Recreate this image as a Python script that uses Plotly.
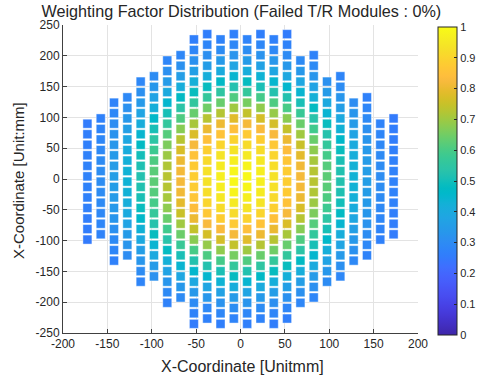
import numpy as np
import plotly.graph_objects as go

# ---- data ----
# column x positions of the array elements (mm)
COL_X = [-172.5, -157.5, -142.5, -127.5, -112.5, -97.5, -82.5, -67.5,
         -52.5, -37.5, -22.5, -7.5, 7.5, 22.5, 37.5, 52.5,
         67.5, 82.5, 97.5, 112.5, 127.5, 142.5, 157.5, 172.5]
# number of elements in each column
COL_COUNT = [12, 12, 16, 16, 20, 20, 24, 24,
             28, 28, 28, 28, 28, 28, 28, 28,
             24, 24, 20, 20, 16, 16, 12, 12]
# vertical centre of each column (mm) – staggered lattice
COL_CENTER = [-4.3, 4.3] * 12
ROW_PITCH = 17.1  # mm between elements in a column

# weighting factor read along the normalised (elliptical) radius
PROFILE_RHO = [0.0, 0.1, 0.2, 0.3, 0.4, 0.5, 0.6, 0.7, 0.8, 0.9, 1.0, 1.1]
PROFILE_W = [1.0, 0.98, 0.94, 0.88, 0.80, 0.68, 0.55, 0.44, 0.35, 0.29, 0.26, 0.24]
RADIUS_X, RADIUS_Y = 180.0, 240.0

X_TICKS = [-200, -150, -100, -50, 0, 50, 100, 150, 200]
Y_TICKS = [-250, -200, -150, -100, -50, 0, 50, 100, 150, 200, 250]
CB_TICKS = [0, 0.1, 0.2, 0.3, 0.4, 0.5, 0.6, 0.7, 0.8, 0.9, 1]

# ---- build element list ----
xs, ys = [], []
for cx, n, cy in zip(COL_X, COL_COUNT, COL_CENTER):
    for k in range(n):
        xs.append(cx)
        ys.append(cy + ROW_PITCH * (k - (n - 1) / 2))
xs = np.array(xs)
ys = np.array(ys)
rho = np.sqrt((xs / RADIUS_X) ** 2 + (ys / RADIUS_Y) ** 2)
weights = np.interp(rho, PROFILE_RHO, PROFILE_W)

_parula = [
    [0.2422, 0.1504, 0.6603], [0.2504, 0.1650, 0.7076], [0.2578, 0.1818, 0.7511],
    [0.2647, 0.1978, 0.7952], [0.2706, 0.2147, 0.8364], [0.2751, 0.2342, 0.8710],
    [0.2783, 0.2559, 0.8991], [0.2803, 0.2782, 0.9221], [0.2813, 0.3006, 0.9414],
    [0.2810, 0.3228, 0.9579], [0.2795, 0.3447, 0.9717], [0.2760, 0.3667, 0.9829],
    [0.2699, 0.3892, 0.9906], [0.2602, 0.4123, 0.9952], [0.2440, 0.4358, 0.9988],
    [0.2206, 0.4603, 0.9973], [0.1963, 0.4847, 0.9892], [0.1834, 0.5074, 0.9798],
    [0.1786, 0.5289, 0.9682], [0.1764, 0.5499, 0.9520], [0.1687, 0.5703, 0.9359],
    [0.1540, 0.5902, 0.9218], [0.1460, 0.6091, 0.9079], [0.1380, 0.6276, 0.8973],
    [0.1248, 0.6459, 0.8883], [0.1113, 0.6635, 0.8763], [0.0952, 0.6798, 0.8598],
    [0.0689, 0.6948, 0.8394], [0.0297, 0.7082, 0.8163], [0.0036, 0.7203, 0.7917],
    [0.0067, 0.7312, 0.7660], [0.0433, 0.7411, 0.7394], [0.0964, 0.7500, 0.7120],
    [0.1408, 0.7584, 0.6842], [0.1717, 0.7670, 0.6554], [0.1938, 0.7758, 0.6251],
    [0.2161, 0.7843, 0.5923], [0.2470, 0.7918, 0.5567], [0.2906, 0.7973, 0.5188],
    [0.3406, 0.8008, 0.4789], [0.3909, 0.8029, 0.4354], [0.4456, 0.8024, 0.3909],
    [0.5044, 0.7993, 0.3480], [0.5616, 0.7942, 0.3045], [0.6174, 0.7876, 0.2612],
    [0.6720, 0.7793, 0.2227], [0.7242, 0.7698, 0.1910], [0.7738, 0.7598, 0.1646],
    [0.8203, 0.7498, 0.1535], [0.8634, 0.7406, 0.1596], [0.9035, 0.7330, 0.1774],
    [0.9393, 0.7288, 0.2100], [0.9728, 0.7298, 0.2394], [0.9956, 0.7434, 0.2371],
    [0.9970, 0.7659, 0.2199], [0.9952, 0.7893, 0.2028], [0.9892, 0.8136, 0.1885],
    [0.9786, 0.8386, 0.1766], [0.9676, 0.8639, 0.1643], [0.9610, 0.8890, 0.1537],
    [0.9597, 0.9135, 0.1423], [0.9628, 0.9373, 0.1265], [0.9691, 0.9606, 0.1064],
    [0.9769, 0.9839, 0.0805]]
PARULA = [[i / (len(_parula) - 1),
           'rgb(%d,%d,%d)' % tuple(int(round(c * 255)) for c in rgb)]
          for i, rgb in enumerate(_parula)]

FONT = "Liberation Sans, Arial, sans-serif"
DARK = "#262626"

fig = go.Figure(go.Scatter(
    x=xs, y=ys, mode="markers", hoverinfo="skip",
    marker=dict(
        symbol="square", size=9, color=weights, colorscale=PARULA,
        cmin=0, cmax=1,
        line=dict(width=0.6, color="rgba(255,255,255,0.7)"),
        colorbar=dict(
            thickness=19, x=1.057, xanchor="left", xpad=0,
            lenmode="pixels", len=308, y=0.4935, yanchor="middle", ypad=0,
            outlinewidth=1, outlinecolor=DARK,
            tickmode="array", tickvals=CB_TICKS,
            ticktext=[str(t) for t in CB_TICKS],
            ticks="inside", ticklen=3, tickcolor=DARK,
            tickfont=dict(family=FONT, size=11, color=DARK),
        ),
    ),
))

fig.update_layout(
    width=478, height=375,
    margin=dict(l=63, r=60, t=25, b=42, autoexpand=False),
    paper_bgcolor="white", plot_bgcolor="white",
    showlegend=False,
    title=dict(text="Weighting Factor Distribution (Failed T/R Modules : 0%)",
               x=0.505, xanchor="center", xref="container",
               y=1 - 11 / 375, yanchor="middle", yref="container",
               font=dict(family=FONT, size=16.2, color=DARK)),
    font=dict(family=FONT, color=DARK),
)
fig.update_xaxes(
    range=[-200, 200], tickmode="array", tickvals=X_TICKS,
    ticktext=[str(t) for t in X_TICKS],
    showgrid=True, gridcolor="#e3e3e3", gridwidth=1, zeroline=False,
    showline=True, linecolor="#404040", linewidth=1,
    ticks="inside", ticklen=4, tickcolor="#404040",
    tickfont=dict(family=FONT, size=12, color=DARK),
)
fig.update_yaxes(
    range=[-250, 250], tickmode="array", tickvals=Y_TICKS,
    ticktext=[str(t) for t in Y_TICKS],
    showgrid=True, gridcolor="#e3e3e3", gridwidth=1, zeroline=False,
    showline=True, linecolor="#404040", linewidth=1,
    ticks="inside", ticklen=4, tickcolor="#404040",
    tickfont=dict(family=FONT, size=12, color=DARK),
)
fig.add_annotation(text="X-Coordinate [Unitmm]", xref="paper", yref="paper",
                   x=(242 - 63) / 355, y=(333 - 366) / 308,
                   xanchor="center", yanchor="middle", showarrow=False,
                   font=dict(family=FONT, size=16, color=DARK))
fig.add_annotation(text="X-Coordinate [Unit:mm]", xref="paper", yref="paper",
                   x=(18 - 63) / 355, y=(333 - 181) / 308, textangle=-90,
                   xanchor="center", yanchor="middle", showarrow=False,
                   font=dict(family=FONT, size=15, color=DARK))

fig.write_html(
    "out.html",
    config={"displayModeBar": False},
    post_script="document.body.style.margin='0';document.body.style.padding='0';"
                "document.documentElement.style.overflow='hidden';",
)
